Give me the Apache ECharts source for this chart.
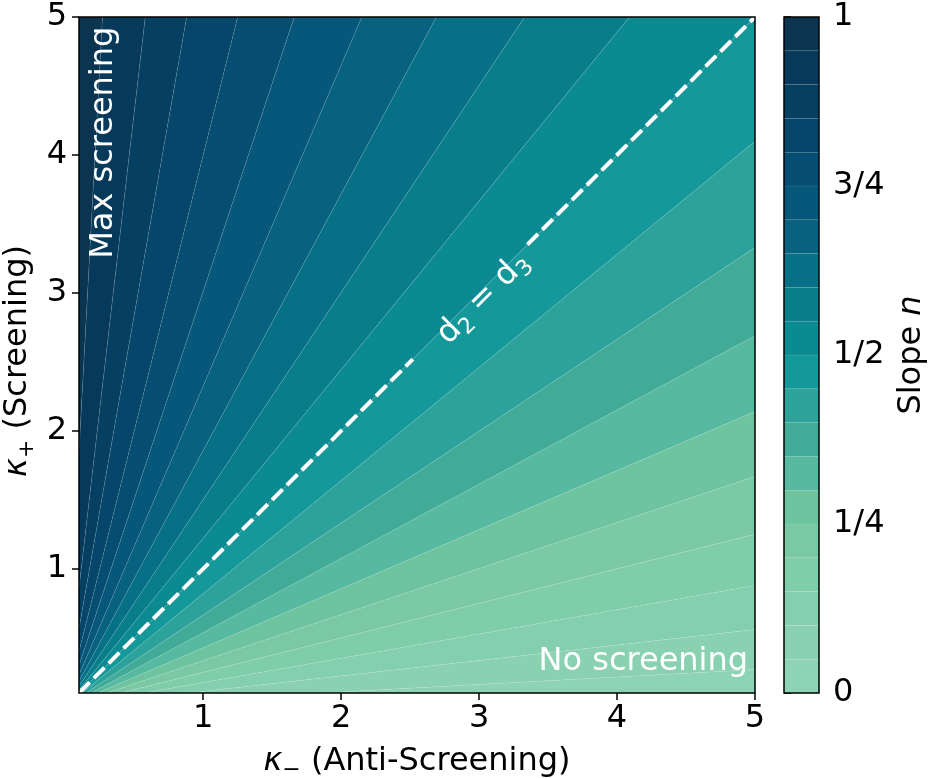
<!DOCTYPE html>
<html>
<head>
<meta charset="utf-8">
<script src="https://cdn.jsdelivr.net/npm/echarts@6/dist/echarts.min.js"></script>
<style>
html,body{margin:0;padding:0;background:#fff;}
#c{width:932px;height:779px;}
</style>
</head>
<body>
<div id="c"></div>
<script>
// ---- data ----
// contour levels of the slope n (colour bands between consecutive levels)
const levels = [0, 0.05, 0.1, 0.15, 0.2, 0.25, 0.3, 0.35, 0.4, 0.45, 0.5, 0.55, 0.6, 0.65, 0.7, 0.75, 0.8, 0.85, 0.9, 0.95, 1];
// where each level's contour line (a ray from the origin) meets the frame: kappa_minus, kappa_plus
const edgeKappaMinus = [5, 5, 5, 5, 5, 5, 5, 5, 5, 5, 5, 4.09, 3.33, 2.69, 2.15, 1.66, 1.25, 0.88, 0.58, 0.27, 0];
const edgeKappaPlus  = [0, 0.27, 0.56, 0.88, 1.25, 1.67, 2.14, 2.69, 3.33, 4.1, 5, 5, 5, 5, 5, 5, 5, 5, 5, 5, 5];
// band colours (level k .. k+1)
const bandColors = ['#8dd3b5', '#89d1b1', '#84cfad', '#80cda9', '#7ac9a4', '#6ec49f', '#56b9a0', '#42ab98', '#2ca29a', '#159899',
                    '#0b8b91', '#087e8b', '#067086', '#06627f', '#065779', '#054e72', '#05466a', '#054062', '#06395a', '#0a3450'];
const axisTicks = [1, 2, 3, 4, 5];
const cbarTicks = [0, 0.25, 0.5, 0.75, 1];
const cbarTickLabels = ['0', '1/4', '1/2', '3/4', '1'];
const diagonalSegments = [[[0.1, 0.1], [2.52, 2.52]], [[3.35, 3.35], [5, 5]]];

const FONT = 'DejaVu Sans';
const FS = 32;
const SUB = 22;
const bandIdx = bandColors.map((c, i) => [i]);

const chart = echarts.init(document.getElementById('c'), null, {renderer: 'canvas'});

function contourItem(params, api) {
  const k = api.value(0);
  const a = [edgeKappaMinus[k], edgeKappaPlus[k]];
  const b = [edgeKappaMinus[k + 1], edgeKappaPlus[k + 1]];
  const pts = [api.coord([0, 0]), api.coord(a)];
  if (a[0] === 5 && b[1] === 5 && a[1] < 5 && b[0] < 5) pts.push(api.coord([5, 5]));
  pts.push(api.coord(b));
  return {
    type: 'polygon',
    shape: {points: pts},
    style: {fill: bandColors[k], stroke: 'rgba(255,255,255,0.13)', lineWidth: 0.7}
  };
}
function cbarItem(params, api) {
  const k = api.value(0);
  const p0 = api.coord([0, levels[k]]);
  const p1 = api.coord([1, levels[k + 1]]);
  return {
    type: 'rect',
    shape: {x: p0[0], y: p1[1], width: p1[0] - p0[0], height: p0[1] - p1[1]},
    style: {fill: bandColors[k], stroke: 'rgba(255,255,255,0.12)', lineWidth: 0.6}
  };
}

const axisCommon = {
  axisLine: {show: false},
  axisTick: {show: true, inside: false, length: 7, lineStyle: {color: '#000', width: 1.5}},
  splitLine: {show: false},
  axisLabel: {color: '#000', fontFamily: FONT, fontSize: FS, margin: 11}
};

const series = [
  {type: 'custom', xAxisIndex: 0, yAxisIndex: 0, clip: true, renderItem: contourItem, data: bandIdx, silent: true, z: 1}
];
diagonalSegments.forEach(seg => series.push({
  type: 'line', xAxisIndex: 0, yAxisIndex: 0, data: seg, symbol: 'none', silent: true, z: 3,
  lineStyle: {color: '#fff', width: 4, type: [15, 6], cap: 'butt'}
}));
series.push({type: 'custom', xAxisIndex: 1, yAxisIndex: 1, renderItem: cbarItem, data: bandIdx, silent: true, z: 1});

chart.setOption({
  animation: false,
  backgroundColor: '#fff',
  grid: [
    {left: 79, top: 17, width: 676, height: 676, show: true, borderColor: '#000', borderWidth: 1.5, backgroundColor: 'transparent', z: 5},
    {left: 784, top: 17, width: 35, height: 676, show: true, borderColor: '#000', borderWidth: 1.5, backgroundColor: 'transparent', z: 5}
  ],
  xAxis: [
    Object.assign({}, axisCommon, {
      type: 'value', gridIndex: 0, min: 0.1, max: 5,
      axisTick: Object.assign({}, axisCommon.axisTick, {customValues: axisTicks}),
      axisLabel: Object.assign({}, axisCommon.axisLabel, {customValues: axisTicks, margin: 10})
    }),
    {type: 'value', gridIndex: 1, min: 0, max: 1, show: false}
  ],
  yAxis: [
    Object.assign({}, axisCommon, {
      type: 'value', gridIndex: 0, min: 0.1, max: 5,
      axisTick: Object.assign({}, axisCommon.axisTick, {customValues: axisTicks}),
      axisLabel: Object.assign({}, axisCommon.axisLabel, {customValues: axisTicks, margin: 12})
    }),
    Object.assign({}, axisCommon, {
      type: 'value', gridIndex: 1, min: 0, max: 1, position: 'right',
      axisTick: Object.assign({}, axisCommon.axisTick, {customValues: cbarTicks}),
      axisLabel: Object.assign({}, axisCommon.axisLabel, {
        customValues: cbarTicks, margin: 14,
        formatter: v => cbarTickLabels[cbarTicks.indexOf(Math.round(v * 100) / 100)]
      }),
      name: 'Slope {n|n}', nameLocation: 'middle', nameGap: 77, nameRotate: 90,
      nameTextStyle: {color: '#000', fontFamily: FONT, fontSize: FS, rich: {n: {fontFamily: FONT, fontSize: FS, fontStyle: 'italic', color: '#000'}}}
    })
  ],
  series: series
});

// text made of pieces (for math-like subscripts)
const measureCtx = document.createElement('canvas').getContext('2d');
function fontOf(p) { return (p.italic ? 'italic ' : '') + p.size + 'px "' + FONT + '"'; }
function mathLabel(parts, cx, cy, rotation, color) {
  let total = 0;
  const ws = parts.map(p => { measureCtx.font = fontOf(p); const w = measureCtx.measureText(p.text).width; total += w; return w; });
  let off = -total / 2;
  const children = parts.map((p, i) => {
    const el = {type: 'text', x: off, y: p.dy || 0, z: 20, zlevel: 0,
                style: {text: p.text, font: fontOf(p), fill: color, align: 'left', verticalAlign: 'middle'}};
    off += ws[i];
    return el;
  });
  return {type: 'group', x: cx, y: cy, rotation: rotation, z: 20, children: children};
}

// annotations placed in data coordinates
const pMax = chart.convertToPixel({gridIndex: 0}, [0.28, 4.93]);
const pNo = chart.convertToPixel({gridIndex: 0}, [4.95, 0.33]);
const pD = chart.convertToPixel({gridIndex: 0}, [3.03, 2.96]);
chart.setOption({
  graphic: [
    {type: 'text', x: pMax[0], y: pMax[1], rotation: Math.PI / 2, z: 20,
     style: {text: 'Max screening', fill: '#fff', font: FS + 'px "' + FONT + '"', align: 'right', verticalAlign: 'middle'}},
    {type: 'text', x: pNo[0], y: pNo[1], z: 20,
     style: {text: 'No screening', fill: '#fff', font: FS + 'px "' + FONT + '"', align: 'right', verticalAlign: 'middle'}},
    mathLabel([
      {text: 'd', size: FS}, {text: '2', size: SUB, dy: 9}, {text: ' = ', size: FS}, {text: 'd', size: FS}, {text: '3', size: SUB, dy: 9}
    ], pD[0], pD[1], Math.PI / 4, '#fff'),
    mathLabel([
      {text: 'κ', size: FS, italic: true}, {text: '−', size: SUB, dy: 8}, {text: ' (Anti-Screening)', size: FS}
    ], 417, 762, 0, '#000'),
    mathLabel([
      {text: 'κ', size: FS, italic: true}, {text: '+', size: SUB, dy: 9}, {text: ' (Screening)', size: FS}
    ], 18, 361, Math.PI / 2, '#000')
  ]
});
</script>
</body>
</html>
